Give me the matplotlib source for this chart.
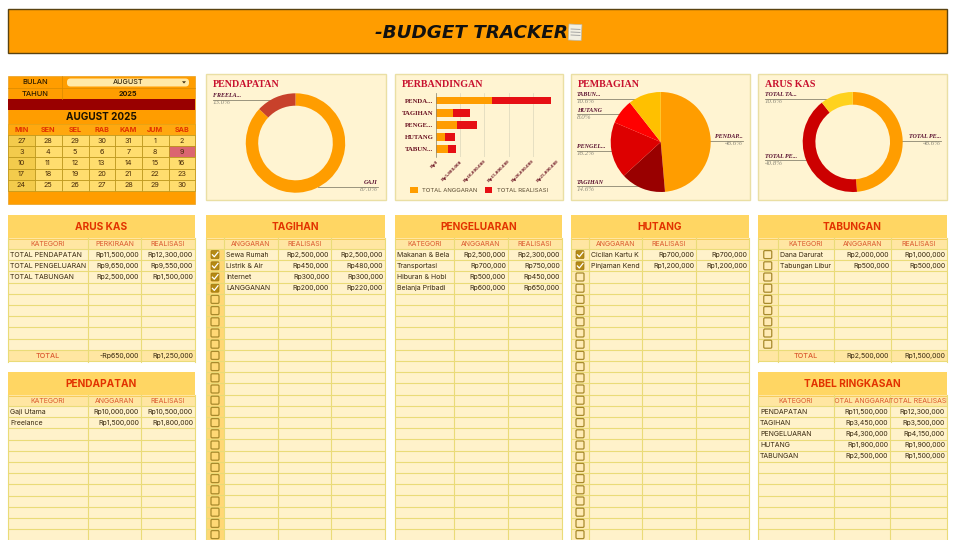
# Budget tracker dashboard, sheet style layout
import matplotlib
matplotlib.use('Agg')
import matplotlib.pyplot as plt
from matplotlib.patches import Rectangle, FancyBboxPatch, Polygon

# chart data
pend_labels = ['GAJI', 'FREELANCE']
pend_values = [10000000, 1500000]
ring_labels = ['PENDAPATAN', 'TAGIHAN', 'PENGELUARAN', 'HUTANG', 'TABUNGAN']
ring_anggaran = [11500000, 3450000, 4300000, 1900000, 2500000]
ring_realisasi = [12300000, 3500000, 4150000, 1900000, 1500000]
bar_names = ['PENDA...', 'TAGIHAN', 'PENGE...', 'HUTANG', 'TABUN...']
bar_ticks = [0, 5000000, 10000000, 15000000, 20000000, 25000000]
arus_labels = ['TOTAL PENDAPATAN', 'TOTAL PENGELUARAN', 'TOTAL TABUNGAN']
arus_values = [11500000, 9650000, 2500000]

# calendar
day_names = ['MIN', 'SEN', 'SEL', 'RAB', 'KAM', 'JUM', 'SAB']
cal_days = [[27, 28, 29, 30, 31, 1, 2],
            [3, 4, 5, 6, 7, 8, 9],
            [10, 11, 12, 13, 14, 15, 16],
            [17, 18, 19, 20, 21, 22, 23],
            [24, 25, 26, 27, 28, 29, 30]]

# tables, names cut off the way the sheet cuts them
arus_rows = [['TOTAL PENDAPATAN', 'Rp11,500,000', 'Rp12,300,000'],
             ['TOTAL PENGELUARAN', 'Rp9,650,000', 'Rp9,550,000'],
             ['TOTAL TABUNGAN', 'Rp2,500,000', 'Rp1,500,000']]
pend_rows = [['Gaji Utama', 'Rp10,000,000', 'Rp10,500,000'],
             ['Freelance', 'Rp1,500,000', 'Rp1,800,000']]
tagihan_rows = [['Sewa Rumah', 'Rp2,500,000', 'Rp2,500,000'],
                ['Listrik & Air', 'Rp450,000', 'Rp480,000'],
                ['Internet', 'Rp300,000', 'Rp300,000'],
                ['LANGGANAN', 'Rp200,000', 'Rp220,000']]
keluar_rows = [['Makanan & Bela', 'Rp2,500,000', 'Rp2,300,000'],
               ['Transportasi', 'Rp700,000', 'Rp750,000'],
               ['Hiburan & Hobi', 'Rp500,000', 'Rp450,000'],
               ['Belanja Pribadi', 'Rp600,000', 'Rp650,000']]
hutang_rows = [['Cicilan Kartu K', 'Rp700,000', 'Rp700,000'],
               ['Pinjaman Kend', 'Rp1,200,000', 'Rp1,200,000']]
tabungan_rows = [['Dana Darurat', 'Rp2,000,000', 'Rp1,000,000'],
                 ['Tabungan Libur', 'Rp500,000', 'Rp500,000']]
ringkas_rows = [['PENDAPATAN', 'Rp11,500,000', 'Rp12,300,000'],
                ['TAGIHAN', 'Rp3,450,000', 'Rp3,500,000'],
                ['PENGELUARAN', 'Rp4,300,000', 'Rp4,150,000'],
                ['HUTANG', 'Rp1,900,000', 'Rp1,900,000'],
                ['TABUNGAN', 'Rp2,500,000', 'Rp1,500,000']]

ORANGE = '#FF9D00'
RED = '#E23200'
CARD = '#FFF4D2'
GRID = '#EADB78'
BODY = '#FFF2CA'
HEAD = '#FFE6A2'
TITLE = '#FFD663'
SANS = 'Inter'
ROW = 11.2

fig = plt.figure(figsize=(9.6, 5.4), dpi=100)
page = fig.add_axes([0, 0, 1, 1])
page.set_xlim(0, 960)
page.set_ylim(540, 0)
page.axis('off')


def box(x0, y0, x1, y1, color, edge='none', lw=0, z=1):
    r = Rectangle((x0, y0), x1 - x0, y1 - y0, fc=color, ec=edge, lw=lw, zorder=z)
    page.add_patch(r)
    return r


def txt(x, y, s, size=5.0, color='#3A2A10', ha='center', weight='normal',
        family=SANS, style='normal', clip=None):
    t = page.text(x, y, s, fontsize=size, color=color, ha=ha, va='center',
                  fontweight=weight, family=family, fontstyle=style, zorder=5)
    if clip is not None:
        t.set_clip_path(clip)
        t.set_clip_on(True)
    return t


def checkbox(x, y, ticked):
    if ticked:
        page.add_patch(FancyBboxPatch((x - 4, y - 4), 8, 8, boxstyle='round,pad=0,rounding_size=1',
                                      fc='#B58A14', ec='#9A7512', lw=0.5, zorder=4))
        page.plot([x - 2.6, x - 0.7, x + 3], [y + 0.2, y + 2.2, y - 2.4], color='white', lw=0.9, zorder=5)
    else:
        page.add_patch(FancyBboxPatch((x - 4, y - 4), 8, 8, boxstyle='round,pad=0,rounding_size=1.2',
                                      fc='none', ec='#A88A2C', lw=0.9, zorder=4))


def table(title, cols, top, bottom, heads, rows, checks=None, total=None, check_fill='#FFEBB5'):
    # cols are the column edges, the checkbox column comes first when there is one
    x0, x1 = cols[0], cols[-1]
    body_top = top + 34
    box(x0, top, x1, top + 23.5, TITLE, z=1)
    box(x0, top + 23, x1, body_top, HEAD, z=1)
    box(x0, body_top, x1, bottom, BODY, z=1)
    txt((x0 + x1) / 2, top + 12, title, size=7.3, color=RED, weight='bold')
    off = len(cols) - 4
    if off:
        box(cols[0], body_top, cols[1], bottom, check_fill, z=2)
    n = int((bottom - body_top) / ROW + 0.999)
    end = bottom
    if total is not None:
        end = bottom - 12
        box(x0, end, x1, bottom, HEAD, z=2)
    for i in range(n + 1):
        y = body_top + i * ROW
        if y <= bottom:
            page.plot([x0, x1], [y, y], color=GRID, lw=0.8, zorder=3, solid_capstyle='butt')
    page.plot([x0, x1], [top + 23.5, top + 23.5], color='#F5C84E', lw=0.6, zorder=3)
    for c in cols:
        page.plot([c, c], [top + 23, bottom], color=GRID, lw=0.8, zorder=3)
    for j, h in enumerate(heads):
        a, b = cols[j + off], cols[j + off + 1]
        cell = box(a, top + 23, b, body_top, 'none', z=0)
        txt((a + b) / 2, top + 28.8, h, size=5, color='#DB5A30', clip=cell)
    for i, r in enumerate(rows):
        y = body_top + (i + 0.5) * ROW
        a, b = cols[off], cols[off + 1]
        cell = box(a, y - 6, b, y + 6, 'none', z=0)
        txt(a + 2, y, r[0], ha='left', clip=cell)
        for j in (1, 2):
            txt(cols[off + j + 1] - 2, y, r[j], ha='right')
    if checks is not None:
        rows_n = int((end - body_top) / ROW + 0.5)
        for i in range(rows_n):
            y = body_top + (i + 0.5) * ROW
            if y < 540:
                checkbox((cols[0] + cols[1]) / 2, y, i < checks)
    if total is not None:
        y = (end + bottom) / 2
        txt((cols[off] + cols[off + 1]) / 2, y, 'TOTAL', size=5.2, color='#DB5A30', weight='medium')
        txt(cols[off + 2] - 2, y, total[0], ha='right')
        txt(cols[off + 3] - 2, y, total[1], ha='right')


def chart_axes(x0, y0, x1, y1):
    a = fig.add_axes([x0 / 960, 1 - y1 / 540, (x1 - x0) / 960, (y1 - y0) / 540])
    a.patch.set_alpha(0)
    return a


def ring(cx, cy, r, values, colors, inner=None):
    a = chart_axes(cx - r, cy - r, cx + r, cy + r)
    props = {'edgecolor': 'none'}
    if inner:
        props['width'] = 1 - inner / r
    a.pie(values, colors=colors, startangle=90, counterclock=False, radius=1, wedgeprops=props)
    a.set_xlim(-1, 1)
    a.set_ylim(-1, 1)
    return a


def call_out(name, pct, x, y, line_to):
    # name above a grey rule, percentage under it
    ha = 'left' if line_to > x else 'right'
    txt(x, y - 3.8, name, size=4.3, color='#5A1030', ha=ha, weight='bold',
        family='Liberation Serif', style='italic')
    page.plot([x, line_to], [y, y], color='#8A8570', lw=0.6, zorder=6)
    txt(x, y + 3.2, pct, size=5, color='#8F8B7C', ha=ha, family='Liberation Serif', style='italic')


def card(x0, x1, title):
    box(x0, 74, x1, 200, CARD, edge='#EADFA4', lw=1)
    txt(x0 + 7, 84.5, title, size=7.2, color='#C8102E', ha='left', weight='bold', family='Liberation Serif')


# header band
box(8, 9, 947, 53, ORANGE, edge='#5A4310', lw=1)
txt(375, 32.5, '-BUDGET TRACKER', size=13.2, color='#111111', ha='left', weight='bold',
    family='Liberation Sans Narrow', style='italic')
page.add_patch(Rectangle((569, 24), 13, 16, fc='#F2EFE2', ec='#BDB8A5', lw=0.5, zorder=5, angle=3))
for yy in (29, 32, 35):
    page.plot([571, 580], [yy, yy + 0.4], color='#9A9A9A', lw=0.6, zorder=6)

# calendar
cal_x = [8, 34.5, 61.5, 88.5, 115, 142, 168.5, 195]
box(8, 76, 195, 204, ORANGE, edge='#E8A020', lw=0.5)
box(8, 98.5, 195, 110, '#990000', z=2)
page.plot([8, 195], [87.5, 87.5], color='#D98A00', lw=0.5, zorder=3)
page.plot([61.5, 61.5], [76, 98.5], color='#D98A00', lw=0.5, zorder=3)
page.add_patch(FancyBboxPatch((67, 78.5), 122, 8, boxstyle='round,pad=0,rounding_size=3.5',
                              fc='#FFE9A8', ec='none', zorder=3))
txt(35, 82.3, 'BULAN', size=5.4, weight='medium', color='#2A1A00')
txt(35, 93.5, 'TAHUN', size=5.4, weight='medium', color='#2A1A00')
txt(128, 82.3, 'AUGUST', size=5.2, weight='medium', color='#3A2A10')
txt(128, 93.5, '2025', size=5.2, weight='bold', color='#2A1A00')
page.add_patch(Polygon([[182, 81.3], [186, 81.3], [184, 83.5]], fc='#3A2A10', ec='none', zorder=5))
txt(101.5, 117.5, 'AUGUST 2025', size=7.2, weight='bold', color='#1A1000')
box(8, 124, 195, 135, '#FFA80F', edge='#D9A520', lw=0.4, z=2)
for j, d in enumerate(day_names):
    txt((cal_x[j] + cal_x[j + 1]) / 2, 129.5, d, size=5.2, weight='bold', color=RED)
for i, week in enumerate(cal_days):
    y0 = 135 + i * 11.2
    for j, d in enumerate(week):
        fill = '#F3CB4C' if j == 0 else '#FFDD6E'
        if d == 9:
            fill = '#DB6570'
        box(cal_x[j], y0, cal_x[j + 1], y0 + 11.2, fill, edge='#B8941A', lw=0.5, z=2)
        txt((cal_x[j] + cal_x[j + 1]) / 2, y0 + 5.6, str(d), size=5.2, color='#4A2C08')

# chart cards
card(206, 386, 'PENDAPATAN')
card(395, 563, 'PERBANDINGAN')
card(571, 750, 'PEMBAGIAN')
card(758, 947, 'ARUS KAS')

ring(295.5, 143, 49.7, pend_values, [ORANGE, '#C8412B'], inner=37.3)
call_out('FREELA...', '13.0%', 213, 99.5, 277)
call_out('GAJI', '87.0%', 378, 186.5, 318)

ba = chart_axes(436.3, 93, 556.7, 156.7)
ypos = list(range(len(bar_names)))
b1 = ba.barh(ypos, ring_anggaran, height=0.64, color=ORANGE, label='TOTAL ANGGARAN')
b2 = ba.barh(ypos, ring_realisasi, height=0.64, left=ring_anggaran, color='#E60F14', label='TOTAL REALISASI')
ba.set_xlim(0, 25000000)
ba.set_ylim(4.6, -0.62)
ba.set_yticks(ypos)
ba.set_yticklabels(bar_names, fontsize=4.9, family='Liberation Serif', fontweight='bold', color='#6A1020')
ba.set_xticks(bar_ticks)
ba.set_xticklabels(['Rp{:,}'.format(v) if v else 'Rp0' for v in bar_ticks], rotation=45, ha='right',
                   rotation_mode='anchor', fontsize=3.6, family='Liberation Serif', fontweight='bold',
                   color='#6A1020')
ba.tick_params(length=0, pad=2)
ba.set_axisbelow(True)
ba.grid(axis='x', color='#DCD7BC', lw=0.5)
for s in ('top', 'right', 'bottom'):
    ba.spines[s].set_visible(False)
ba.spines['left'].set_color('#8A8570')
ba.spines['left'].set_linewidth(0.5)
ba.legend(handles=[b1, b2], loc='center', bbox_to_anchor=(479, 190), bbox_transform=page.transData, ncol=2,
          frameon=False, prop={'family': SANS, 'size': 4.3}, handlelength=1.3, handleheight=1.3,
          columnspacing=1.2, handletextpad=0.7, labelcolor='#5A4A30')

ring(660.7, 142, 50, ring_anggaran, [ORANGE, '#990000', '#DD0000', '#FF0000', '#FFC000'])
call_out('TABUN...', '10.6%', 577, 98.5, 640)
call_out('HUTANG', '8.0%', 577, 114, 622)
call_out('PENGEL...', '18.2%', 577, 150.5, 613)
call_out('TAGIHAN', '14.6%', 577, 186, 642)
call_out('PENDAP...', '48.6%', 743, 140.5, 708)

ring(852.7, 142, 50, arus_values, [ORANGE, '#CC0000', '#FFD21E'], inner=37.3)
call_out('TOTAL TA...', '10.6%', 765, 98.5, 835)
call_out('TOTAL PE...', '48.6%', 941, 140.5, 900)
call_out('TOTAL PE...', '40.8%', 765, 160, 808)

# tables
table('ARUS KAS', [8, 88, 141, 195], 215, 362, ['KATEGORI', 'PERKIRAAN', 'REALISASI'], arus_rows,
      total=['-Rp650,000', 'Rp1,250,000'])
table('PENDAPATAN', [8, 88, 141, 195], 372, 540, ['KATEGORI', 'ANGGARAN', 'REALISASI'], pend_rows)
table('TAGIHAN', [206, 224, 278, 331, 385], 215, 540, ['ANGGARAN', 'REALISASI'], tagihan_rows, checks=4,
      check_fill='#FFD875')
table('PENGELUARAN', [395, 454, 508, 562], 215, 540, ['KATEGORI', 'ANGGARAN', 'REALISASI'], keluar_rows)
table('HUTANG', [571, 589, 642, 696, 749], 215, 540, ['ANGGARAN', 'REALISASI'], hutang_rows, checks=2)
table('TABUNGAN', [758, 777.5, 834, 891, 947], 215, 362, ['KATEGORI', 'ANGGARAN', 'REALISASI'], tabungan_rows,
      checks=0, total=['Rp2,500,000', 'Rp1,500,000'])
table('TABEL RINGKASAN', [758, 834, 890, 947], 372, 540, ['KATEGORI', 'TOTAL ANGGARAN', 'TOTAL REALISASI'],
      ringkas_rows)

fig.savefig('out.png', dpi=100, facecolor='white')
